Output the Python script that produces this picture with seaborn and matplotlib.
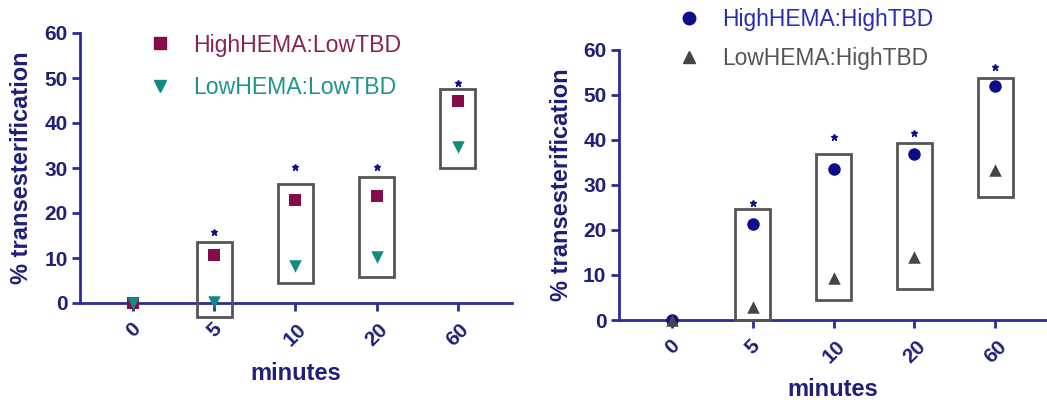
import matplotlib
matplotlib.use("Agg")
import matplotlib.pyplot as plt
import seaborn as sns
import pandas as pd
from matplotlib.patches import Rectangle
from matplotlib.lines import Line2D

sns.set_style("white")
plt.rcParams['font.family'] = ['Liberation Sans', 'DejaVu Sans']

# ---------------- data ----------------
minutes = ["0", "5", "10", "20", "60"]

# left panel
high_hema_low_tbd = [0, 10.7, 22.9, 23.8, 44.9]
low_hema_low_tbd = [0, 0.3, 8.2, 10.2, 34.7]
left_box_low = [None, -3.0, 4.4, 5.8, 30.1]
left_box_high = [None, 13.5, 26.4, 28.0, 47.6]
left_star = [None, 15.7, 30.3, 30.3, 49.0]

# right panel
high_hema_high_tbd = [0, 21.3, 33.5, 36.8, 52.0]
low_hema_high_tbd = [0, 3.0, 9.4, 13.9, 33.3]
right_box_low = [None, 0.0, 4.4, 7.0, 27.4]
right_box_high = [None, 24.6, 36.8, 39.4, 53.7]
right_star = [None, 25.9, 40.6, 41.5, 56.3]

y_ticks = [0, 10, 20, 30, 40, 50, 60]

# ---------------- style ----------------
NAVY_TXT = "#1f1f78"
AXIS_COL = "#2b2b9b"
BOX_COL = "#555555"
C_MAROON = "#850c4a"
C_TEAL = "#138a80"
C_NAVY = "#0d0d8a"
C_GRAY = "#454545"

W, H = 1047, 407
fig = plt.figure(figsize=(W / 100, H / 100), dpi=100)


def px_axes(x0, x1, ytop, ybot):
    return fig.add_axes([x0 / W, 1 - ybot / H, (x1 - x0) / W, (ybot - ytop) / H])


ax1 = px_axes(80, 512, 33, 303)
ax2 = px_axes(619, 1047, 50, 320)


def draw_panel(ax, s1, s2, m1, m2, c1, c2, box_lo, box_hi, stars, xlim):
    df1 = pd.DataFrame({"minutes": minutes, "val": s1})
    df2 = pd.DataFrame({"minutes": minutes, "val": s2})
    sns.stripplot(data=df1, x="minutes", y="val", order=minutes, jitter=False,
                  marker=m1, color=c1, size=9, linewidth=0, ax=ax, zorder=4)
    sns.stripplot(data=df2, x="minutes", y="val", order=minutes, jitter=False,
                  marker=m2, color=c2, size=9, linewidth=0, ax=ax, zorder=5)
    for coll in ax.collections:
        coll.set_clip_on(False)
    bw = 0.43
    for i, (lo, hi) in enumerate(zip(box_lo, box_hi)):
        if lo is None:
            continue
        ax.add_patch(Rectangle((i - bw / 2, lo), bw, hi - lo, fill=False,
                               edgecolor=BOX_COL, linewidth=2.0, clip_on=False, zorder=6))
    for i, s in enumerate(stars):
        if s is None:
            continue
        ax.plot([i], [s], marker="*", color=C_NAVY, markersize=5, clip_on=False,
                linestyle="none", zorder=6)
    ax.set_xlim(*xlim)
    ax.set_ylim(0, 60)
    ax.set_yticks(y_ticks)
    ax.set_yticklabels([str(t) for t in y_ticks])
    for sp in ["top", "right"]:
        ax.spines[sp].set_visible(False)
    for sp in ["left", "bottom"]:
        ax.spines[sp].set_color(AXIS_COL)
        ax.spines[sp].set_linewidth(2.0)
    ax.tick_params(axis="both", direction="out", length=6, width=2, color=AXIS_COL,
                   labelsize=15, labelcolor=NAVY_TXT, left=True, bottom=True)
    ax.tick_params(axis="y", pad=3)
    ax.tick_params(axis="x", pad=6)
    for t in ax.get_xticklabels():
        t.set_rotation(45)
        t.set_ha("center")
        t.set_fontweight("bold")
    for t in ax.get_yticklabels():
        t.set_fontweight("bold")
    ax.set_xlabel("minutes", fontsize=17, fontweight="bold", color=NAVY_TXT)
    ax.set_ylabel("% transesterification", fontsize=17, fontweight="bold", color=NAVY_TXT)
    ax.xaxis.label.set_va("center")
    ax.yaxis.label.set_va("center")
    ax.grid(False)
    ax.set_facecolor("white")


draw_panel(ax1, high_hema_low_tbd, low_hema_low_tbd, "s", "v", C_MAROON, C_TEAL,
           left_box_low, left_box_high, left_star, (-0.654, 4.667))
draw_panel(ax2, high_hema_high_tbd, low_hema_high_tbd, "o", "^", C_NAVY, C_GRAY,
           right_box_low, right_box_high, right_star, (-0.656, 4.64))

ax1.xaxis.set_label_coords(0.5, (303 - 373) / 270)
ax1.yaxis.set_label_coords((22 - 80) / 432, 0.5)
ax2.xaxis.set_label_coords(0.5, (320 - 390) / 270)
ax2.yaxis.set_label_coords((562 - 619) / 428, 0.5)


def add_legend(labels, markers, colors, txtcolors, xmark, ycenter, spacing, fs):
    handles = [Line2D([], [], marker=m, color=c, linestyle="none", markersize=9)
               for m, c in zip(markers, colors)]
    fs_px = fs * 100 / 72
    hl = 0.8
    pad_px = 33 - hl * fs_px / 2
    leg = fig.legend(handles, labels, loc="center left",
                     bbox_to_anchor=((xmark - hl * fs_px / 2) / W, 1 - ycenter / H),
                     frameon=False, fontsize=fs, handlelength=hl,
                     handletextpad=pad_px / fs_px,
                     labelspacing=(spacing - fs_px * 1.0) / fs_px, borderpad=0,
                     borderaxespad=0, labelcolor=txtcolors)
    return leg


add_legend(["HighHEMA:LowTBD", "LowHEMA:LowTBD"], ["s", "v"], [C_MAROON, C_TEAL],
           ["#8b2255", "#1f958a"], 160, 66.5, 43, 16.6)
add_legend(["HighHEMA:HighTBD", "LowHEMA:HighTBD"], ["o", "^"], [C_NAVY, C_GRAY],
           ["#2a2ab8", "#555555"], 689, 39, 38, 16.4)

fig.savefig("out.png", dpi=100)
